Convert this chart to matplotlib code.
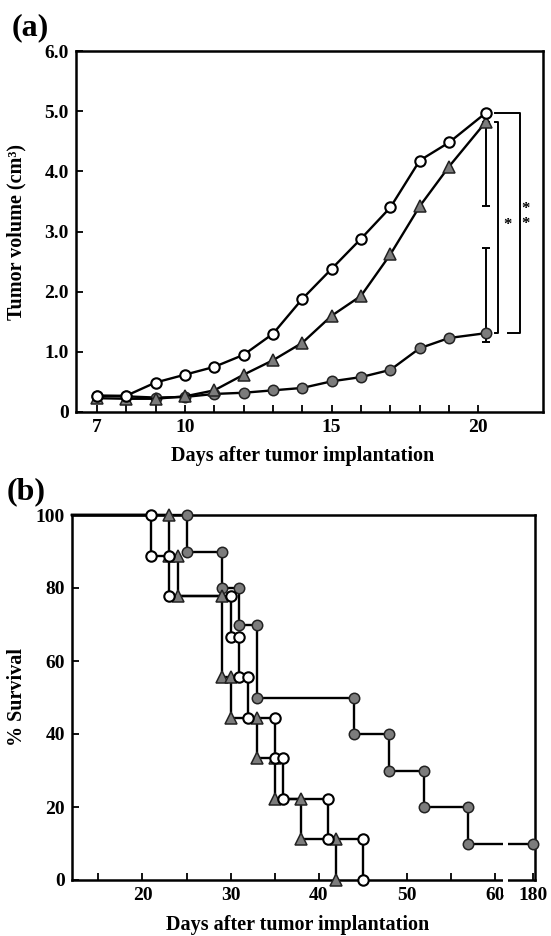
import numpy as np
import matplotlib
matplotlib.use("Agg")
from matplotlib import pyplot as plt
from matplotlib.patches import Rectangle

plt.rcParams['font.family'] = ['Liberation Serif', 'DejaVu Serif']
plt.rcParams['font.weight'] = 'bold'
plt.rcParams['axes.labelweight'] = 'bold'
plt.rcParams['font.size'] = 14

# (a) tumor volume (cm3)
days = [7, 8, 9, 10, 11, 12, 13, 14, 15, 16, 17, 18, 19, 20.25]
vol_open = [0.27, 0.27, 0.49, 0.62, 0.75, 0.95, 1.30, 1.88, 2.38, 2.88, 3.40, 4.18, 4.48, 4.97]
vol_tri = [0.23, 0.22, 0.22, 0.26, 0.36, 0.62, 0.86, 1.15, 1.60, 1.93, 2.62, 3.42, 4.08, 4.82]
vol_fill = [0.27, 0.26, 0.24, 0.25, 0.30, 0.32, 0.36, 0.40, 0.51, 0.58, 0.70, 1.06, 1.23, 1.31]
tri_err_low = 3.43
fill_err_low, fill_err_high = 1.17, 2.72

# (b) day of death for each animal
death_open = [21, 23, 30, 31, 32, 35, 36, 41, 45]
death_tri = [23, 24, 29, 29, 30, 33, 35, 38, 42]
death_fill = [25, 29, 31, 33, 33, 44, 48, 52, 57]
n_open, n_tri, n_fill = 9, 9, 10
last_day = 180

GRAY = '#7c7c7c'
EDGE = '#222222'
styles = {
	'open': dict(marker='o', mfc='white', mec='black', ms=7.5, mew=1.5),
	'tri': dict(marker='^', mfc=GRAY, mec=EDGE, ms=8, mew=1.1),
	'fill': dict(marker='o', mfc=GRAY, mec=EDGE, ms=7.5, mew=1.1),
}

def km_steps(deaths, n):
	t = np.unique(deaths)
	d = np.array([deaths.count(x) for x in t])
	s = 100 * (1 - np.cumsum(d) / n)
	s_prev = np.concatenate([[100], s[:-1]])
	xs = np.repeat(t, 2).astype(float)
	ys = np.column_stack([s_prev, s]).ravel()
	return xs, ys

fig = plt.figure(figsize=(5.51, 9.36), dpi=100)

# ---------- panel a ----------
ax1 = fig.add_axes([76/551, 1-412/936, (543-76)/551, (412-51)/936])
for vals, key in [(vol_fill, 'fill'), (vol_tri, 'tri'), (vol_open, 'open')]:
	ax1.plot(days, vals, color='black', lw=1.7, clip_on=False, zorder=3, **styles[key])

ax1.errorbar(days[-1], vol_tri[-1], yerr=[[vol_tri[-1]-tri_err_low], [0]], fmt='none',
	ecolor='black', elinewidth=1.4, capsize=3, capthick=1.4, zorder=2)
ax1.errorbar(days[-1], vol_fill[-1], yerr=[[vol_fill[-1]-fill_err_low], [fill_err_high-vol_fill[-1]]],
	fmt='none', ecolor='black', elinewidth=1.4, capsize=3, capthick=1.4, zorder=2)

# significance brackets
ax1.plot([20.55, 20.65, 20.65, 20.55], [vol_tri[-1], vol_tri[-1], vol_fill[-1], vol_fill[-1]],
	color='black', lw=1.4, clip_on=False)
ax1.plot([20.55, 21.4, 21.4, 21.0], [vol_open[-1], vol_open[-1], vol_fill[-1], vol_fill[-1]],
	color='black', lw=1.4, clip_on=False)
ax1.text(21.0, 3.1, '*', ha='center', va='center', fontsize=12)
ax1.text(21.6, 3.38, '*', ha='center', va='center', fontsize=12)
ax1.text(21.6, 3.12, '*', ha='center', va='center', fontsize=12)

ax1.set_xlim(6.29, 22.2)
ax1.set_ylim(0, 6)
ax1.set_xticks(range(7, 21))
ax1.set_xticklabels([str(d) if d in (7, 10, 15, 20) else '' for d in range(7, 21)])
ax1.set_yticks(range(0, 7))
ax1.set_yticklabels(['0'] + ['%.1f' % v for v in range(1, 7)])
ax1.tick_params(direction='in', length=5, width=1.3, pad=5, labelsize=14)
for sp in ax1.spines.values():
	sp.set_linewidth(1.8)
ax1.set_xlabel('Days after tumor implantation', fontsize=14.5)
ax1.xaxis.set_label_coords(0.485, -0.093)
ax1.set_ylabel('Tumor volume (cm³)', fontsize=14.5)
ax1.yaxis.set_label_coords(-0.105, 0.5)
fig.text(30/551, 1-28/936, '(a)', fontsize=23, ha='center', va='center')

# ---------- panel b ----------
brk = 61.5
k = (64.3 - brk) / (last_day - brk)

def fwd(x):
	x = np.asarray(x, float)
	return np.where(x <= brk, x, brk + (x - brk) * k)

def inv(x):
	x = np.asarray(x, float)
	return np.where(x <= brk, x, brk + (x - brk) / k)

ax2 = fig.add_axes([72/551, 1-880/936, (535-72)/551, (880-515)/936])
ax2.set_xscale('function', functions=(fwd, inv))
ax2.set_xlim(12, float(inv(64.55)))
ax2.set_ylim(0, 100)

for deaths, n, key in [(death_fill, n_fill, 'fill'), (death_tri, n_tri, 'tri'), (death_open, n_open, 'open')]:
	xs, ys = km_steps(deaths, n)
	if ys[-1] > 0:
		xs = np.append(xs, last_day)
		ys = np.append(ys, ys[-1])
	ax2.plot(np.concatenate([[12], xs]), np.concatenate([[100], ys]), color='black', lw=1.7,
		clip_on=False, zorder=3)
	ax2.plot(xs, ys, ls='none', clip_on=False, zorder=4, **styles[key])

# axis break
ax2.add_patch(Rectangle((60.9, -4), 1.05, 17, facecolor='white', edgecolor='none',
	clip_on=False, zorder=5))

xt = [15, 20, 25, 30, 35, 40, 45, 50, 55, 60, last_day]
ax2.set_xticks(xt)
ax2.set_xticklabels([str(v) if v % 10 == 0 else '' for v in xt])
ax2.xaxis.set_minor_locator(matplotlib.ticker.NullLocator())
ax2.set_yticks(range(0, 101, 20))
ax2.set_yticklabels([str(v) for v in range(0, 101, 20)])
ax2.tick_params(direction='in', length=5, width=1.3, pad=5, labelsize=14)
for sp in ax2.spines.values():
	sp.set_linewidth(1.8)
ax2.set_xlabel('Days after tumor implantation', fontsize=14.5)
ax2.xaxis.set_label_coords(0.487, -0.097)
ax2.set_ylabel('% Survival', fontsize=14.5)
ax2.yaxis.set_label_coords(-0.097, 0.5)
fig.text(26/551, 1-492/936, '(b)', fontsize=23, ha='center', va='center')

fig.savefig('out.png', dpi=100)
